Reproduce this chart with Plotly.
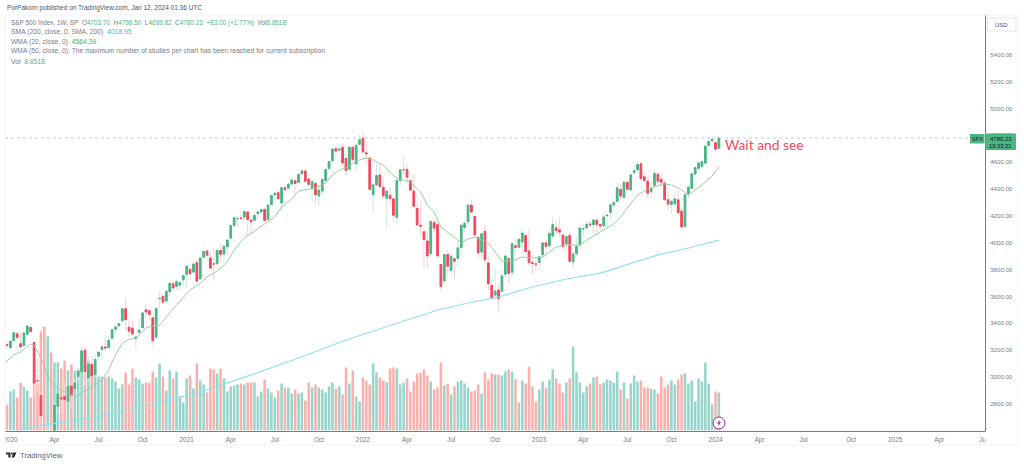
import pandas as pd
import plotly.graph_objects as go

W, H = 1024, 465
FONT = "Liberation Sans"

start_week = "2019-12-30"

opens = [3240,3217,3271,3321,3247,3235,3318,3369,3257,2974,2863,2508,2393,2558,2578,2782,2845,2854,2815,2932,2913,3004,3038,3199,2993,3094,3018,3155,3205,3224,3219,3288,3356,3380,3418,3509,3371,3364,3285,3333,3367,3500,3493,3441,3296,3583,3600,3566,3634,3694,3675,3684,3723,
 3764,3803,3781,3851,3731,3892,3939,3886,3842,3844,3942,3916,3969,4034,4127,4179,4185,4191,4228,4169,4168,4216,4229,4248,4174,4284,4356,4373,4296,4409,4407,4437,4461,4450,4514,4535,4474,4403,4442,4348,4385,4463,4553,4610,4701,4689,4712,4628,4548,4710,4587,4733,
 4778,4670,4632,4356,4431,4505,4412,4332,4354,4327,4188,4462,4542,4547,4462,4385,4256,4130,4082,4013,3919,4151,4134,3838,3715,3913,3792,3880,3883,3965,4113,4155,4280,4195,4041,3930,4084,3849,3682,3610,3647,3638,3765,3881,3780,3977,3966,4005,4053,3939,3853,3843,
 3853,3911,3999,3978,4049,4111,4096,4057,3992,4055,3856,3917,3982,4102,4110,4140,4134,4167,4136,4126,4201,4226,4282,4308,4396,4337,4450,4394,4521,4543,4588,4491,4458,4380,4426,4510,4473,4445,4320,4284,4289,4320,4236,4120,4365,4406,4512,4554,4569,4593,4725,4758,4745,4703.70]
highs = [3258,3282,3329,3337,3337,3347,3385,3393,3259,3137,2882,2562,2637,2641,2818,2879,2845,2954,2934,2968,2980,3068,3233,3233,3155,3155,3165,3186,3238,3287,3306,3352,3387,3399,3509,3588,3429,3425,3306,3428,3485,3550,3502,3443,3529,3645,3628,3646,3699,3712,3726,3702,3760,
 3826,3823,3861,3870,3889,3937,3950,3928,3960,3960,3983,3978,4020,4129,4191,4195,4218,4238,4236,4186,4219,4234,4249,4262,4286,4356,4372,4393,4415,4429,4442,4480,4480,4513,4546,4536,4492,4466,4457,4429,4475,4559,4608,4718,4719,4718,4744,4672,4714,4731,4740,4808,
 4819,4749,4632,4453,4595,4590,4490,4385,4416,4327,4465,4546,4637,4593,4471,4513,4308,4307,4082,4090,4158,4178,4168,3838,3913,3946,3918,3880,4013,4140,4167,4280,4325,4203,4041,4076,4140,3900,3736,3807,3694,3800,3906,3893,4002,4028,4034,4101,4053,4101,3876,3878,
 3906,4003,4016,4095,4195,4176,4195,4057,4018,4079,3937,4039,4110,4134,4164,4170,4170,4186,4143,4212,4212,4290,4322,4448,4436,4458,4456,4528,4578,4607,4608,4527,4491,4458,4540,4521,4522,4466,4385,4317,4385,4394,4268,4365,4415,4520,4568,4607,4610,4739,4779,4794,4754,4798.50]
lows = [3212,3214,3261,3281,3214,3235,3315,3328,2855,2901,2478,2280,2191,2447,2575,2727,2727,2830,2798,2766,2910,2969,3035,2936,2965,2999,3000,3115,3127,3200,3220,3284,3327,3379,3418,3349,3293,3310,3209,3323,3361,3441,3424,3233,3279,3511,3543,3547,3594,3633,3648,3636,3687,
 3663,3749,3781,3694,3725,3885,3865,3805,3723,3820,3853,3853,3917,4034,4118,4118,4170,4159,4057,4057,4161,4168,4221,4165,4165,4279,4313,4322,4233,4367,4393,4424,4347,4450,4513,4458,4427,4305,4288,4278,4354,4453,4537,4595,4630,4664,4585,4495,4532,4600,4531,4733,
 4664,4582,4395,4222,4415,4401,4327,4114,4279,4157,4129,4424,4506,4450,4381,4267,4124,4062,3810,3810,3875,4074,3900,3636,3715,3739,3742,3721,3818,3911,4079,4112,4218,4057,3885,3886,3838,3647,3571,3572,3491,3638,3738,3698,3748,3906,3945,3919,3918,3827,3764,3795,
 3794,3887,3885,3949,4037,4060,4047,3943,3928,3846,3808,3901,3951,4049,4086,4113,4049,4048,4099,4110,4104,4166,4260,4307,4328,4329,4385,4385,4514,4528,4463,4450,4335,4328,4414,4431,4416,4316,4235,4217,4285,4219,4103,4113,4329,4405,4506,4537,4546,4593,4709,4751,4682,4699.82]
closes = [3234.85,3265,3329.62,3295,3225.5,3327.7,3380,3337.75,2954,2972,2711,2304.92,2541,2488,2789.82,2874.56,2836.74,2830.71,2929.8,2863.7,2955.45,3044.31,3193.93,3041.31,3097.74,3009.05,3130.01,3185.04,3224.73,3215.63,3271.12,3351.28,3372.85,3397.16,3508,3426.96,3340.97,3319.47,3298.46,3348.44,3477.13,3483.81,3465.39,3269.96,3509.44,3585.15,3557.54,3638.35,3699.12,3663.46,3709.41,3703.06,3756.07,
 3824.68,3768.25,3841.47,3714.24,3886.83,3934.83,3906.71,3811.15,3841.94,3943.34,3913.1,3974.54,4019.87,4128.8,4185.47,4180.17,4181.17,4232.6,4173.85,4155.86,4204.11,4229.89,4247.44,4166.45,4280.7,4352.34,4369.55,4327.16,4411.79,4395.26,4436.52,4468,4441.67,4509.37,4535.43,4458.58,4432.99,4455.48,4357.04,4391.34,4471.37,4544.9,4605.38,4697.53,4682.85,4697.96,4594.62,4538.43,4712.02,4620.64,4725.79,4766.18,
 4677.03,4662.85,4397.94,4431.85,4500.53,4418.64,4348.87,4384.65,4328.87,4204.31,4463.12,4543.06,4545.86,4488.28,4392.59,4271.78,4131.93,4123.34,4023.89,3901.36,4158.24,4108.54,3900.86,3674.84,3911.74,3825.33,3899.38,3863.16,3961.63,4130.29,4145.19,4280.15,4228.48,4057.66,3924.26,4067.36,3873.33,3693.23,3585.62,3639.66,3583.07,3752.75,3901.06,3770.55,3992.93,3965.34,4026.12,4071.7,3934.38,3852.36,3844.82,3839.5,
 3895.08,3999.09,3972.61,4070.56,4136.48,4090.46,4079.09,3970.04,4045.64,3861.59,3916.64,3970.99,4109.31,4105.02,4137.64,4133.52,4169.48,4136.25,4124.08,4191.98,4205.45,4282.37,4298.86,4409.59,4348.33,4450.38,4398.95,4505.42,4536.34,4582.23,4478.03,4464.05,4369.71,4405.71,4515.77,4457.49,4450.32,4320.06,4288.05,4308.5,4327.78,4224.16,4117.37,4358.34,4415.24,4514.02,4559.34,4594.63,4604.37,4719.19,4754.63,4769.83,4697.24,4780.23]
# volume, in units of about 0.233B
volumes = [26,39,41,33,48,44,40,33,47,47,99,104,94,78,68,68,62,70,60,66,60,61,62,59,70,66,61,54,54,53,54,52,49,42,46,58,46,62,53,51,47,48,48,59,53,67,54,40,60,52,59,34,28,52,55,42,67,50,46,38,62,61,57,62,52,39,44,45,46,47,46,48,
 48,48,34,39,51,42,38,33,40,47,43,43,37,41,37,38,30,48,43,46,43,41,38,44,48,42,44,36,63,47,60,34,29,53,50,46,67,58,53,50,48,62,63,62,46,48,52,39,49,57,58,61,55,49,41,43,68,45,47,36,44,49,50,47,43,39,40,46,37,58,51,57,56,56,
 55,59,61,59,51,28,50,47,64,44,29,41,49,43,51,61,52,47,38,48,52,84,58,48,38,44,47,53,54,46,48,51,50,48,59,41,48,32,47,55,49,50,43,43,42,41,37,54,43,46,50,46,51,56,57,47,50,29,52,49,68,47,26,39,38]

wma_weeks = [-1,0,2,4,6,7,8,10,12,13,14,16,18,20,21,22,24,26,28,30,31,32,34,36,38,41,43,45,49,54,57,59,62,65,67,70,73,77,79,81,84,86,89,91,94,96,98,100,103,106,108,111,113,115,117,119,122,124,126,128,131,134,136,138,142,145,146,149,152,155,158,160,162,165,169,172,176,179,181,183,186,189,192,194,196,198,201,203,205,208,210]
wma_values = [3097,3119,3164,3186,3223,3246,3238,3141,3007,2962,2933,2903,2880,2858,2858,2888,2907,2940,2977,3052,3104,3164,3253,3279,3290,3365,3380,3387,3506,3648,3696,3745,3789,3856,3946,4035,4087,4154,4192,4266,4326,4385,4400,4408,4445,4505,4542,4557,4609,4631,4616,4579,4527,4482,4467,4452,4378,4281,4229,4117,4058,3998,4028,4043,3998,3894,3864,3864,3894,3886,3894,3931,3968,3983,3983,4035,4095,4140,4192,4259,4356,4400,4423,4438,4430,4408,4356,4393,4430,4497,4564.39]
sma_weeks = [3,9,21,31,44,57,72,86,100,116,127,136,145,155,165,175,178,192,201,210]
sma_values = [2600,2635,2679,2724,2806,2888,3015,3141,3275,3409,3499,3551,3596,3670,3730,3774,3797,3909,3961,4018.95]

price_ticks = [2800,3000,3200,3400,3600,3800,4000,4200,4400,4600,4800,5000,5200,5400]
time_ticks = ["2020-01-06","2020-04-06","2020-07-06","2020-10-05","2021-01-04","2021-04-05","2021-07-05","2021-10-04","2022-01-03","2022-04-04","2022-07-04","2022-10-03","2023-01-02","2023-04-03","2023-07-03","2023-10-02","2024-01-01","2024-04-01","2024-07-01","2024-10-07","2025-01-06","2025-04-07","2025-07-07"]
time_labels = ["2020","Apr","Jul","Oct","2021","Apr","Jul","Oct","2022","Apr","Jul","Oct","2023","Apr","Jul","Oct","2024","Apr","Jul","Oct","2025","Apr","Jul"]

dates = pd.date_range(start_week, periods=len(closes), freq="7D")
week = lambda i: pd.Timestamp(start_week) + pd.Timedelta(weeks=i)

UP, DOWN = "#4BB585", "#F04A5F"
UP_W, DOWN_W = "#CFE7E2", "#FAD0D5"
VOL_UP, VOL_DOWN = "#96D5CB", "#FBB0AD"
GREY = "#787B86"

fx = lambda x: x / W
fy = lambda y: 1 - y / H

fig = go.Figure()
fig.add_bar(x=dates, y=volumes, yaxis="y", hoverinfo="skip", showlegend=False,
            marker=dict(color=[VOL_UP if c >= o else VOL_DOWN for o, c in zip(opens, closes)], line_width=0))
fig.add_candlestick(x=dates, open=opens, high=highs, low=lows, close=closes, yaxis="y2",
                    increasing=dict(line=dict(color=UP_W, width=1), fillcolor=UP_W),
                    decreasing=dict(line=dict(color=DOWN_W, width=1), fillcolor=DOWN_W),
                    hoverinfo="skip", showlegend=False)
fig.add_candlestick(x=dates, open=opens, close=closes, yaxis="y2",
                    high=[max(o, c) for o, c in zip(opens, closes)],
                    low=[min(o, c) for o, c in zip(opens, closes)],
                    increasing=dict(line=dict(color=UP, width=1), fillcolor=UP),
                    decreasing=dict(line=dict(color=DOWN, width=1), fillcolor=DOWN),
                    hoverinfo="skip", showlegend=False)
fig.add_scatter(x=[week(i) for i in sma_weeks], y=sma_values, yaxis="y2", mode="lines",
                line=dict(color="#8FE2EE", width=1.2), hoverinfo="skip", showlegend=False)
fig.add_scatter(x=[week(i) for i in wma_weeks], y=wma_values, yaxis="y2", mode="lines",
                line=dict(color="#9CCF9F", width=1), hoverinfo="skip", showlegend=False)

def rect(x0, y0, x1, y1, fill, line=None):
    return dict(type="rect", xref="paper", yref="paper", x0=fx(x0), x1=fx(x1), y0=fy(y0), y1=fy(y1),
                fillcolor=fill, line=dict(color=line or fill, width=1 if line else 0), layer="above")

def hv(x0, y0, x1, y1, color):
    return dict(type="line", xref="paper", yref="paper", x0=fx(x0), x1=fx(x1), y0=fy(y0), y1=fy(y1),
                line=dict(color=color, width=1), layer="above")

def poly(points, fill):
    d = "M" + " L".join(f"{fx(x):.5f} {fy(y):.5f}" for x, y in points) + " Z"
    return dict(type="path", xref="paper", yref="paper", path=d, fillcolor=fill, line=dict(width=0), layer="above")

shapes = [
    rect(0, 431, 5, 445, "white"),
    rect(985.5, 431, 1018, 445, "white"),
    hv(5, 15, 1018, 15, "#F0F3FA"), hv(5, 15, 5, 445, "#F0F3FA"),
    hv(5, 445, 1018, 445, "#F0F3FA"), hv(1018, 15, 1018, 445, "#F0F3FA"),
    dict(type="line", xref="paper", yref="y2", x0=fx(5), x1=fx(970), y0=closes[-1], y1=closes[-1],
         line=dict(color="#A3DDCA", width=1, dash="dot"), layer="above"),
    rect(970, 134, 984.5, 143.5, UP),
    rect(985.5, 133.5, 1016, 150, UP),
    rect(987.5, 18, 1016, 31, "white", "#E0E3EB"),
    dict(type="circle", xref="paper", yref="paper", x0=fx(713), x1=fx(725), y0=fy(417), y1=fy(429),
         fillcolor="white", line=dict(color="#9C27B0", width=1), layer="above"),
    poly([(720, 419.5), (717, 423.5), (718.8, 423.5), (718, 426.5), (721, 422.3), (719.2, 422.3)], "#9C27B0"),
    poly([(6, 452.5), (10.5, 452.5), (10.5, 457.5), (8.3, 457.5), (8.3, 454.5), (6, 454.5)], "#2A2E39"),
    poly([(13.2, 452.5), (16.5, 452.5), (14.2, 457.5), (11.6, 457.5)], "#2A2E39"),
    dict(type="circle", xref="paper", yref="paper", x0=fx(10.9), x1=fx(12.9), y0=fy(452.4), y1=fy(454.4),
         fillcolor="#2A2E39", line=dict(width=0), layer="above"),
]

def label(x, y, text, size=6.75, color=GREY, anchor="left", family=FONT):
    return dict(xref="paper", yref="paper", x=fx(x), y=fy(y), text=text, showarrow=False, xanchor=anchor,
                yanchor="middle", align=anchor, borderpad=0, font=dict(family=family, size=size, color=color))

def val(text, color="#4DB58C"):
    return f'<span style="color:{color}">{text}</span>'

NB = "\u00a0"
annotations = [
    label(6, 8, "PorPakorn published on TradingView.com, Jan 12, 2024 01:36 UTC", 6.5, "#50535E"),
    label(10, 23, f"S&P 500 Index, 1W, SP{NB}{NB}O{val('4703.70')}{NB}{NB}H{val('4798.50')}{NB}{NB}L{val('4699.82')}{NB}{NB}C{val('4780.23')}{NB}{NB}{val('+83.00 (+1.77%)')}{NB}{NB}Vol{val('8.851B')}", 6.4),
    label(10, 32.5, f"SMA (200, close, 0, SMA, 200){NB}{NB}{val('4018.95', '#26C6DA')}"),
    label(10, 42, f"WMA (20, close, 0){NB}{NB}{val('4564.39', '#4CAF50')}"),
    label(10, 51.5, "WMA (50, close, 0): The maximum number of studies per chart has been reached for current subscription"),
    label(10, 61, f"Vol{NB}{NB}{val('8.851B', '#4DB5A8')}"),
    label(724, 144, "Wait and see", 13.8, "#F2495F", family="Lato"),
    label(977.3, 138.8, "SPX", 5.6, "#1E222D", "center"),
    label(1000.5, 138.5, "4780.23", 6, "#131722", "center"),
    label(1000.5, 146, "19:33:21", 5.8, "#131722", "center"),
    label(1001.7, 24.5, "USD", 6, "#50535E", "center"),
    label(19, 455, "TradingView", 7.7, "#5D606B"),
]

fig.update_layout(
    width=W, height=H, autosize=False, margin=dict(l=0, r=0, t=0, b=0, pad=0, autoexpand=False),
    paper_bgcolor="white", plot_bgcolor="white", bargap=0.25, showlegend=False,
    font=dict(family=FONT, size=8, color=GREY),
    shapes=shapes, annotations=annotations,
    xaxis=dict(type="date", domain=[fx(5), fx(985)], range=["2019-12-25 21:00", "2025-07-10 12:00"],
               automargin=False, rangeslider=dict(visible=False), showgrid=False, zeroline=False,
               tickmode="array", tickvals=time_ticks, ticktext=time_labels, ticks="", ticklabelstandoff=3,
               tickfont=dict(size=6.4, color=GREY), showline=True, linecolor=GREY, linewidth=1, anchor="y"),
    yaxis=dict(domain=[fy(430.5), fy(15)], range=[0, 415.5], visible=False, fixedrange=True, automargin=False),
    yaxis2=dict(domain=[fy(430.5), fy(15)], overlaying="y", side="right", anchor="x", automargin=False,
                range=[5000 - (430.5 - 108.5) * 7.45, 5000 + (108.5 - 15) * 7.45],
                tickmode="array", tickvals=price_ticks, tickformat=".2f", ticks="outside", ticklen=3,
                tickcolor="rgba(0,0,0,0)", showgrid=False, zeroline=False, showline=True,
                linecolor=GREY, linewidth=1, tickfont=dict(size=6.1, color=GREY)),
)

assert len(opens) == len(highs) == len(lows) == len(closes) == len(volumes), (len(opens), len(highs), len(lows), len(closes), len(volumes))
fig.write_html("out.html", config={"displayModeBar": False}, post_script="document.body.style.margin='0';")
